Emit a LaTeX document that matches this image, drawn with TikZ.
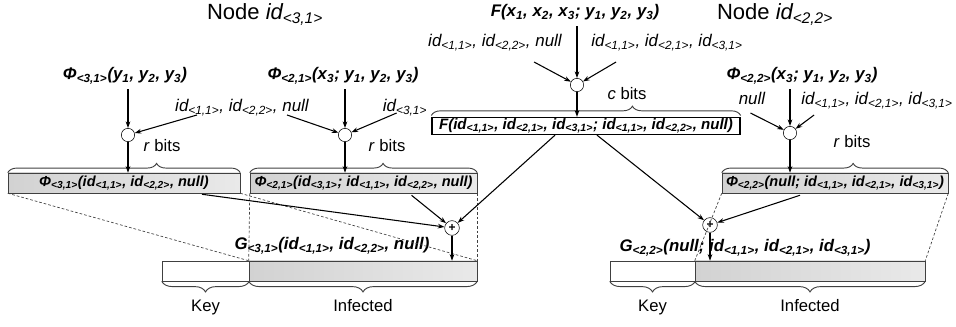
\documentclass[tikz,border=0pt]{standalone}
\usepackage{fontspec}
\setmainfont{Liberation Sans}
\usetikzlibrary{decorations.pathreplacing,arrows.meta}

\newcommand{\sbs}[1]{\textsubscript{#1}}

\begin{document}
\begin{tikzpicture}[x=0.75pt,y=-0.75pt,
  lbl/.style={font=\fontsize{12.6}{15}\selectfont\bfseries\itshape, inner sep=0pt, anchor=base},
  ids/.style={font=\fontsize{12.7}{15}\selectfont\itshape, inner sep=0pt, anchor=base},
  txt/.style={font=\fontsize{12.5}{15}\selectfont, inner sep=0pt, anchor=base},
  ttl/.style={font=\fontsize{16.5}{19}\selectfont, inner sep=0pt, anchor=base},
  mix/.style={draw, circle, minimum size=10pt, inner sep=0pt, fill=white},
  xorc/.style={draw, circle, minimum size=11pt, inner sep=0pt, fill=white, font=\bfseries\fontsize{9}{9}\selectfont},
  phibox/.style={draw=box_edge, left color=box_dark, right color=box_light, minimum height=15pt, inner xsep=0.5pt, inner ysep=0pt, font=\fontsize{10.9}{13}\selectfont\bfseries\itshape},
  keybox/.style={draw=box_edge, fill=white, minimum height=15pt, inner sep=0pt},
  infbox/.style={draw=box_edge, left color=box_dark, right color=box_light, minimum height=15pt, inner sep=0pt},
  arr/.style={-{Stealth[length=5pt,width=3.5pt]}, line width=0.8pt},
  brc/.style={decorate, line width=0.7pt, box_edge},
  dsh/.style={dashed, dash pattern=on 2pt off 1.5pt, line width=0.5pt, box_edge}
]

\definecolor{box_dark}{HTML}{D2D2D2}
\definecolor{box_light}{HTML}{E9E9E9}
\definecolor{box_edge}{HTML}{404040}

\useasboundingbox (0,0) rectangle (956,327);

% titles
\node[ttl] (t31) at (265,20) {Node \textit{id\sbs{<3,1>}}};
\node[ttl] (t22) at (775,20) {Node \textit{id\sbs{<2,2>}}};

% inputs
\node[lbl] (phi31) at (125,80) {Φ\sbs{<3,1>}(y\sbs{1}, y\sbs{2}, y\sbs{3})};
\node[lbl] (phi21) at (343,80) {Φ\sbs{<2,1>}(x\sbs{3}; y\sbs{1}, y\sbs{2}, y\sbs{3})};
\node[lbl] (Fxy) at (575,17) {F(x\sbs{1}, x\sbs{2}, x\sbs{3}; y\sbs{1}, y\sbs{2}, y\sbs{3})};
\node[lbl] (phi22) at (802,80) {Φ\sbs{<2,2>}(x\sbs{3}; y\sbs{1}, y\sbs{2}, y\sbs{3})};

\node[ids] (ids31) at (242,112) {id\sbs{<1,1>}, id\sbs{<2,2>}, null};
\node[ids] (ids21) at (405,112) {id\sbs{<3,1>}};
\node[ids] (idsFl) at (495,47) {id\sbs{<1,1>}, id\sbs{<2,2>}, null};
\node[ids] (idsFr) at (667,47) {id\sbs{<1,1>}, id\sbs{<2,1>}, id\sbs{<3,1>}};
\node[ids] (ids22l) at (752,105) {null};
\node[ids] (ids22r) at (877,105) {id\sbs{<1,1>}, id\sbs{<2,1>}, id\sbs{<3,1>}};

% mixing
\node[mix] (c31) at (128,135) {};
\node[mix] (c21) at (345,135) {};
\node[mix] (cF) at (577,85) {};
\node[mix] (c22) at (790,133) {};

% results
\node[phibox, minimum width=174pt] (box31) at (124,183) {Φ\sbs{<3,1>}(id\sbs{<1,1>}, id\sbs{<2,2>}, null)};
\node[phibox, minimum width=170.25pt] (box21) at (363.5,183) {Φ\sbs{<2,1>}(id\sbs{<3,1>}; id\sbs{<1,1>}, id\sbs{<2,2>}, null)};
\node[phibox, minimum width=231pt, minimum height=12.75pt, left color=white, right color=white, draw=black, line width=1pt, font=\fontsize{11.3}{13}\selectfont\bfseries\itshape] (boxF) at (586,126) {F(id\sbs{<1,1>}, id\sbs{<2,1>}, id\sbs{<3,1>}; id\sbs{<1,1>}, id\sbs{<2,2>}, null)};
\node[phibox, minimum width=169.5pt] (box22) at (835,183) {Φ\sbs{<2,2>}(null; id\sbs{<1,1>}, id\sbs{<2,1>}, id\sbs{<3,1>})};

\node[txt] (rb31) at (162,152) {\textit{r} bits};
\node[txt] (rb21) at (387,152) {\textit{r} bits};
\node[txt] (cbF) at (627,100) {\textit{c} bits};
\node[txt] (rb22) at (852,148) {\textit{r} bits};

% xor
\node[xorc] (xor31) at (452,228) {+};
\node[xorc] (xor22) at (710,225) {+};

% infected files
\node[keybox, minimum width=65.25pt] (key31) at (205.5,271) {};
\node[infbox, minimum width=171pt] (inf31) at (363,271) {};
\node[keybox, minimum width=63.75pt] (key22) at (652.5,271) {};
\node[infbox, minimum width=172.5pt] (inf22) at (810,271) {};

\node[lbl] (g31) at (332,250) {G\sbs{<3,1>}(id\sbs{<1,1>}, id\sbs{<2,2>}, null)};
\node[lbl] (g22) at (745,252) {G\sbs{<2,2>}(null; id\sbs{<1,1>}, id\sbs{<2,1>}, id\sbs{<3,1>})};

\node[txt] (k31) at (205.5,312) {Key};
\node[txt] (i31) at (363,312) {Infected};
\node[txt] (k22) at (652.5,312) {Key};
\node[txt] (i22) at (810,312) {Infected};

% braces
\draw[brc, decoration={brace, amplitude=7pt, aspect=0.64}] (box31.north west) -- (box31.north east);
\draw[brc, decoration={brace, amplitude=7pt, aspect=0.586}] (box21.north west) -- (box21.north east);
\draw[brc, decoration={brace, amplitude=7pt, aspect=0.65}] ([yshift=1pt]boxF.north west) -- ([yshift=1pt]boxF.north east);
\draw[brc, decoration={brace, amplitude=7pt, aspect=0.58}] (box22.north west) -- (box22.north east);
\draw[brc, decoration={brace, amplitude=8pt}] (key31.south east) -- (key31.south west);
\draw[brc, decoration={brace, amplitude=8pt}] (inf31.south east) -- (inf31.south west);
\draw[brc, decoration={brace, amplitude=8pt}] (key22.south east) -- (key22.south west);
\draw[brc, decoration={brace, amplitude=8pt}] (inf22.south east) -- (inf22.south west);

% dashed mapping
\draw[dsh] (box31.south west) -- (inf31.north west);
\draw[dsh] (box31.south east) -- (inf31.north east);
\draw[dsh] (box21.south west) -- (inf31.north west);
\draw[dsh] (box21.south east) -- (inf31.north east);
\draw[dsh] (box22.south west) -- (inf22.north west);
\draw[dsh] (box22.south east) -- (inf22.north east);

% arrows in
\draw[arr] ([yshift=-7pt]phi31.base -| c31) -- (c31);
\draw[arr] ([shift={(22,3)}]ids31.base west) -- (c31);
\draw[arr] ([yshift=-7pt]phi21.base -| c21) -- (c21);
\draw[arr] ([shift={(-22,3)}]ids31.base east) -- (c21);
\draw[arr] ([shift={(14,1)}]ids21.base west) -- (c21);
\draw[arr] ([yshift=-7pt]Fxy.base -| cF) -- (cF);
\draw[arr] ([shift={(-28,15)}]idsFl.base east) -- (cF);
\draw[arr] ([shift={(25,15)}]idsFr.base west) -- (cF);
\draw[arr] ([yshift=-7pt]phi22.base -| c22) -- (c22);
\draw[arr] ([shift={(-15,8)}]ids22l.base east) -- (c22);
\draw[arr] ([shift={(13,10)}]ids22r.base west) -- (c22);

\draw[arr] (c31) -- (c31 |- box31.north);
\draw[arr] (c21) -- (c21 |- box21.north);
\draw[arr] (cF) -- (cF |- boxF.north);
\draw[arr] (c22) -- (c22 |- box22.north);

% arrows to xor
\draw[arr] ([shift={(78,1)}]box31.south) -- (xor31);
\draw[arr] ([shift={(48,2)}]box21.south) -- (xor31);
\draw[arr] ([shift={(-31,0)}]boxF.south) -- (xor31);
\draw[arr] ([shift={(11,0)}]boxF.south) -- (xor22);
\draw[arr] ([shift={(-35,2)}]box22.south) -- (xor22);

\draw[arr] (xor31) -- (xor31 |- inf31.north);
\draw[arr] (xor22) -- (xor22 |- inf22.north);

\end{tikzpicture}
\end{document}
